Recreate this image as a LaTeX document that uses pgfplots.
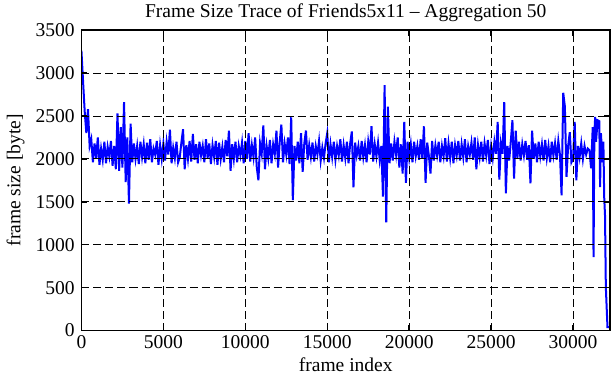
\documentclass[border=0pt]{standalone}
\usepackage{fontspec}
\setmainfont{Liberation Serif}
\usepackage{pgfplots}
\pgfplotsset{compat=1.18}
\begin{document}
\fontsize{19.5}{23}\selectfont
\begin{tikzpicture}
\begin{axis}[
 scale only axis, width=528pt, height=300pt,
 xmin=0, xmax=32260, ymin=0, ymax=3500,
 xtick={0,5000,...,30000}, ytick={0,500,...,3500},
 scaled x ticks=false,
 /pgf/number format/assume math mode=true,
 /pgf/number format/1000 sep={},
 tick align=inside, tick pos=both,
 major tick length=6pt,
 every tick/.style={black, line width=1.4pt},
 grid=major, grid style={black, dash pattern=on 8pt off 4pt, line width=0.9pt},
 axis line style={line width=1.8pt},
 axis on top=true,
 title={Frame Size Trace of Friends5x11 -- Aggregation 50},
 title style={font=\fontsize{19.5}{23}\selectfont, inner sep=3.5pt, yshift=-1pt},
 xlabel={frame index}, ylabel={frame size [byte]},
 tick label style={font=\fontsize{19.5}{23}\selectfont},
 xticklabel style={yshift=2pt},
 label style={font=\fontsize{19.5}{23}\selectfont},
 xlabel style={yshift=4pt},
 ylabel style={yshift=-2pt},
]
\addplot[color={rgb,255:red,0;green,0;blue,255}, line width=2pt, sharp plot] coordinates {
(0,3260)(100,2900)(200,2550)(300,2300)(400,2580)(500,2150)(600,2230)(700,1960)(800,2180)(900,2010)
(1000,2250)(1100,1930)(1200,2120)(1300,1990)(1400,2200)(1500,1950)(1600,2140)(1700,2030)(1800,2210)(1900,1920)
(2000,2150)(2100,1880)(2200,2530)(2300,1860)(2400,2370)(2500,1900)(2600,2660)(2700,1730)(2800,2250)(2900,1480)
(3000,2410)(3100,1960)(3200,2180)(3300,2000)(3400,2150)(3500,1940)(3600,2200)(3700,2020)(3800,2170)(3900,1950)
(4000,2190)(4100,1990)(4200,2230)(4300,1960)(4400,2120)(4500,2050)(4600,2210)(4700,1930)(4800,2160)(4900,2000)
(5000,2180)(5100,1980)(5200,2200)(5300,2050)(5400,2340)(5500,1950)(5600,2130)(5700,2010)(5800,2200)(5900,1960)
(6000,2020)(6100,2190)(6200,2345)(6300,1880)(6400,2160)(6500,2000)(6600,2210)(6700,1970)(6800,2290)(6900,1990)
(7000,2170)(7100,1950)(7200,2200)(7300,2040)(7400,2150)(7500,1960)(7600,2230)(7700,2010)(7800,2180)(7900,1940)
(8000,2160)(8100,2020)(8200,2210)(8300,1930)(8400,2190)(8500,2000)(8600,2140)(8700,1960)(8800,2220)(8900,2030)
(9000,2330)(9100,1860)(9200,2170)(9300,2000)(9400,2200)(9500,1960)(9600,2150)(9700,2040)(9800,2190)(9900,1950)
(10000,2210)(10100,2000)(10200,2300)(10300,1970)(10400,2160)(10500,2020)(10600,2250)(10700,1900)(10800,1750)(10900,2180)
(11000,2060)(11100,2390)(11200,1880)(11300,2150)(11400,2010)(11500,2220)(11600,1950)(11700,2170)(11800,2060)(11900,2330)
(12000,1900)(12100,2200)(12200,2400)(12300,1960)(12400,2180)(12500,2050)(12600,2250)(12700,1940)(12800,2485)(12900,1520)
(13000,2150)(13100,1980)(13200,2200)(13300,1950)(13400,2300)(13500,1850)(13600,2180)(13700,2330)(13800,1990)(13900,2160)
(14000,2020)(14100,2190)(14200,1970)(14300,2150)(14400,2050)(14500,2210)(14600,1980)(14700,2130)(14800,2010)(14900,2180)
(15000,2300)(15100,1960)(15200,2170)(15300,2020)(15400,2200)(15500,1990)(15600,2150)(15700,2040)(15800,2230)(15900,1970)
(16000,2160)(16100,2010)(16200,2200)(16300,1950)(16400,2180)(16500,2320)(16600,1670)(16700,2190)(16800,2040)(16900,2150)
(17000,1980)(17100,2210)(17200,2020)(17300,2160)(17400,1960)(17500,2200)(17600,2050)(17700,2380)(17800,1970)(17900,2170)
(18000,2030)(18100,2190)(18200,1990)(18300,2150)(18400,1560)(18500,2860)(18600,1260)(18700,2610)(18800,1950)(18900,2180)
(19000,1980)(19100,2200)(19200,2050)(19300,2250)(19400,1900)(19500,2170)(19600,1830)(19700,2430)(19800,1720)(19900,2200)
(20000,2010)(20100,2170)(20200,1960)(20300,2200)(20400,2030)(20500,2150)(20600,1990)(20700,2230)(20800,2010)(20900,2380)
(21000,1720)(21100,2190)(21200,2040)(21300,1830)(21400,2210)(21500,1980)(21600,2160)(21700,2040)(21800,2200)(21900,1960)
(22000,2150)(22100,2030)(22200,2240)(22300,1970)(22400,2180)(22500,2010)(22600,2200)(22700,1950)(22800,2160)(22900,2040)
(23000,2210)(23100,1980)(23200,2170)(23300,2020)(23400,2230)(23500,1960)(23600,2150)(23700,2050)(23800,2190)(23900,1990)
(24000,2250)(24100,1880)(24200,2160)(24300,2020)(24400,2200)(24500,1970)(24600,2180)(24700,2040)(24800,2220)(24900,1940)
(25000,2150)(25100,2010)(25200,2200)(25300,2060)(25400,2430)(25500,1760)(25600,2180)(25700,2060)(25800,2660)(25900,1600)
(26000,2150)(26100,1980)(26200,2200)(26300,2450)(26400,1770)(26500,2330)(26600,2010)(26700,2200)(26800,1980)(26900,2170)
(27000,2040)(27100,2210)(27200,1990)(27300,2160)(27400,1715)(27500,2330)(27600,2000)(27700,2180)(27800,1960)(27900,2200)
(28000,2030)(28100,2170)(28200,1980)(28300,2220)(28400,2010)(28500,2150)(28600,1960)(28700,2200)(28800,2040)(28900,2180)
(29000,1990)(29100,2210)(29200,2050)(29300,1575)(29400,2770)(29500,2610)(29600,1790)(29700,2150)(29800,2310)(29900,1960)
(30000,2000)(30100,2430)(30200,1750)(30300,2150)(30400,2020)(30500,2180)(30600,2000)(30700,2150)(30800,2050)(30900,2120)
(31000,2100)(31100,1890)(31200,2370)(31250,855)(31300,2300)(31350,2490)(31400,2200)(31500,2450)(31600,2440)(31650,1670)
(31700,2300)(31800,1960)(31850,2200)(31900,1555)(31950,1340)(32000,505)(32050,272)(32100,39)(32200,40)(32250,30)
};
\end{axis}
\end{tikzpicture}
\end{document}
